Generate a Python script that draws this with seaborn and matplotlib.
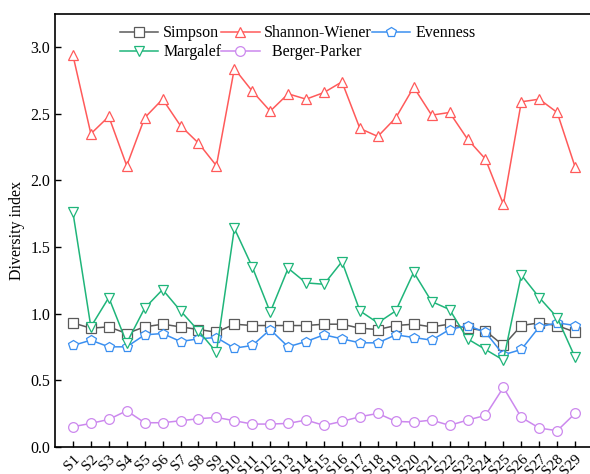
import matplotlib
matplotlib.use("Agg")
import matplotlib.pyplot as plt
import seaborn as sns
import pandas as pd

# sites
sites = ["S" + str(i) for i in range(1, 30)]

simpson = [0.93, 0.89, 0.90, 0.85, 0.90, 0.92, 0.90, 0.88, 0.86, 0.92,
           0.91, 0.91, 0.91, 0.91, 0.92, 0.92, 0.89, 0.88, 0.91, 0.92,
           0.90, 0.92, 0.89, 0.87, 0.76, 0.91, 0.93, 0.91, 0.86]
shannon = [2.94, 2.35, 2.48, 2.11, 2.47, 2.61, 2.41, 2.28, 2.11, 2.84,
           2.67, 2.52, 2.65, 2.61, 2.66, 2.74, 2.39, 2.33, 2.47, 2.70,
           2.49, 2.51, 2.31, 2.16, 1.82, 2.59, 2.61, 2.51, 2.10]
evenness = [0.76, 0.80, 0.75, 0.75, 0.84, 0.85, 0.79, 0.81, 0.82, 0.74,
            0.76, 0.88, 0.75, 0.79, 0.84, 0.81, 0.78, 0.78, 0.84, 0.82,
            0.80, 0.88, 0.91, 0.86, 0.69, 0.73, 0.90, 0.93, 0.91]
margalef = [1.76, 0.90, 1.12, 0.78, 1.04, 1.18, 1.02, 0.87, 0.71, 1.64,
            1.35, 1.01, 1.34, 1.23, 1.22, 1.39, 1.02, 0.93, 1.02, 1.31,
            1.09, 1.03, 0.81, 0.73, 0.65, 1.29, 1.12, 0.97, 0.67]
berger = [0.15, 0.175, 0.205, 0.27, 0.18, 0.18, 0.195, 0.21, 0.22, 0.195,
          0.17, 0.17, 0.175, 0.20, 0.16, 0.19, 0.225, 0.25, 0.19, 0.185,
          0.20, 0.16, 0.20, 0.235, 0.445, 0.22, 0.14, 0.12, 0.25]

plt.rcParams["font.family"] = ["Liberation Serif", "DejaVu Serif"]

fig = plt.figure(figsize=(5.9, 4.74), dpi=100)
ax = fig.add_axes([0.0932, 0.0576, 0.912, 0.913])

series = [
    ("Simpson", simpson, "#5a5a5a", "s"),
    ("Shannon-Wiener", shannon, "#ff5a5a", "^"),
    ("Evenness", evenness, "#3a8ff0", "p"),
    ("Margalef", margalef, "#1fb57a", "v"),
    ("  Berger-Parker", berger, "#cc88ee", "o"),
]

handles = {}
for name, vals, col, mk in series:
    df = pd.DataFrame({"site": sites, "value": vals})
    sns.lineplot(data=df, x="site", y="value", ax=ax, color=col, marker=mk,
                 markersize=7, markerfacecolor="white", markeredgecolor=col,
                 markeredgewidth=0.9, linewidth=1.1, sort=False, label=name)
    handles[name] = ax.lines[-1]

ax.set_xlim(-1, 29)
ax.set_ylim(0, 3.25)
ax.set_yticks([0.0, 0.5, 1.0, 1.5, 2.0, 2.5, 3.0])
ax.set_yticklabels(["0.0", "0.5", "1.0", "1.5", "2.0", "2.5", "3.0"])
ax.set_xticks(range(len(sites)))
ax.set_xticklabels(sites, rotation=45, ha="right", rotation_mode="anchor")
ax.tick_params(direction="in", labelsize=11.5, length=4, width=1)
ax.tick_params(axis="x", pad=4, labelsize=11)
ax.set_xlabel("")
ax.set_ylabel("Diversity index", fontsize=11.5)
for s in ax.spines.values():
    s.set_linewidth(1.2)

order = ["Simpson", "Margalef", "Shannon-Wiener", "  Berger-Parker", "Evenness"]
ax.legend([handles[k] for k in order], order, ncol=3, frameon=False,
          loc="upper left", bbox_to_anchor=(0.1, 1.0), fontsize=11.5,
          columnspacing=0.0, handlelength=2.4, handletextpad=0.3,
          labelspacing=0.2, borderaxespad=0.3)

fig.savefig("out.png", dpi=100)
